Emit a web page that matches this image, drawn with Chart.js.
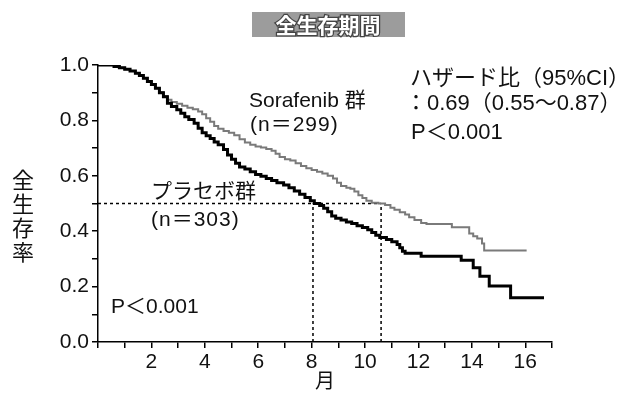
<!DOCTYPE html>
<html><head><meta charset="utf-8">
<script src="https://cdn.jsdelivr.net/npm/chart.js@4"></script>
<style>html,body{margin:0;padding:0;background:#fff;}canvas{display:block;}</style>
</head><body>
<canvas id="c" width="618" height="394"></canvas>
<script>
const placeboMonths = [0,0.45,0.6,0.8,1.0,1.2,1.4,1.55,1.7,1.85,2.0,2.15,2.3,2.45,2.6,2.75,2.95,3.1,3.25,3.4,3.6,3.75,3.9,4.05,4.2,4.35,4.5,4.7,4.85,5.0,5.15,5.3,5.5,5.7,5.9,6.1,6.3,6.5,6.7,6.95,7.15,7.35,7.55,7.75,7.95,8.1,8.3,8.45,8.6,8.75,8.9,9.1,9.3,9.5,9.7,9.9,10.1,10.25,10.4,10.55,10.8,11.0,11.2,11.3,11.4,11.5,12.1,13.6,14.05,14.3,14.65,15.45,16.7];
const placeboSurvival = [1,1,0.995,0.99,0.985,0.978,0.97,0.962,0.952,0.94,0.93,0.916,0.9,0.885,0.862,0.85,0.838,0.826,0.813,0.803,0.79,0.772,0.755,0.745,0.735,0.722,0.712,0.695,0.675,0.66,0.645,0.632,0.625,0.615,0.605,0.598,0.59,0.583,0.575,0.567,0.557,0.545,0.533,0.522,0.51,0.5,0.493,0.483,0.47,0.455,0.447,0.44,0.433,0.428,0.42,0.413,0.405,0.395,0.385,0.377,0.37,0.362,0.352,0.34,0.328,0.32,0.31,0.295,0.268,0.237,0.202,0.16,0.16];
const sorafenibMonths = [0,0.45,0.6,0.8,1.0,1.2,1.4,1.55,1.7,1.85,2.0,2.15,2.3,2.45,2.6,2.75,2.95,3.15,3.35,3.55,3.75,3.9,4.05,4.2,4.35,4.5,4.7,4.9,5.1,5.3,5.5,5.7,5.9,6.1,6.3,6.5,6.65,6.8,7.0,7.2,7.4,7.6,7.8,8.0,8.2,8.4,8.6,8.8,8.95,9.1,9.3,9.45,9.6,9.75,9.9,10.05,10.25,10.5,10.75,10.95,11.1,11.3,11.5,11.65,11.85,12.1,12.3,13.25,13.9,14.05,14.2,14.38,14.46,16.05];
const sorafenibSurvival = [1,1,0.995,0.99,0.985,0.978,0.97,0.962,0.952,0.94,0.93,0.916,0.902,0.888,0.875,0.866,0.86,0.853,0.846,0.84,0.832,0.822,0.808,0.795,0.78,0.77,0.762,0.755,0.746,0.732,0.72,0.712,0.706,0.702,0.697,0.69,0.68,0.668,0.66,0.655,0.645,0.635,0.627,0.621,0.615,0.608,0.6,0.59,0.575,0.563,0.557,0.553,0.543,0.53,0.52,0.51,0.503,0.5,0.495,0.485,0.477,0.468,0.46,0.45,0.44,0.43,0.426,0.414,0.392,0.382,0.374,0.356,0.33,0.33];
const medianPlacebo = 8.05;
const medianSorafenib = 10.6;
const medianLevel = 0.5;
const xMax = 17;
const yTickLabels = ['0.0','0.2','0.4','0.6','0.8','1.0'];
const xTickLabels = ['2','4','6','8','10','12','14','16'];

const toXY = (xs, ys) => xs.map((x, i) => ({x: x, y: ys[i]}));
const LAT = '"Liberation Sans", "Noto Sans CJK JP", sans-serif';
const JP = '"Noto Sans CJK JP", sans-serif';

const textPlugin = {
  id: 'texts',
  afterDraw(chart) {
    const ctx = chart.ctx;
    ctx.save();
    // title box
    ctx.fillStyle = '#9c9c9c';
    ctx.fillRect(252, 12, 153, 25);
    ctx.font = 'bold 21px ' + JP;
    ctx.textAlign = 'center';
    ctx.textBaseline = 'middle';
    ctx.lineWidth = 2.5;
    ctx.strokeStyle = '#444';
    ctx.strokeText('全生存期間', 328, 25);
    ctx.fillStyle = '#fff';
    ctx.fillText('全生存期間', 328, 25);
    // y title stacked
    ctx.fillStyle = '#111';
    ctx.font = '22px ' + JP;
    const yt = ['全','生','存','率'];
    yt.forEach((ch, i) => ctx.fillText(ch, 23, 180 + i * 24));
    // annotations
    ctx.textAlign = 'left';
    ctx.font = '21px ' + LAT;
    ctx.fillText('Sorafenib 群', 249, 101);
    ctx.fillText('プラセボ群', 151, 192);
    ctx.fillText('P＜0.001', 111, 307);
    ctx.letterSpacing = '1px';
    ctx.fillText('(n＝299)', 250, 125);
    ctx.fillText('(n＝303)', 151, 220);
    ctx.letterSpacing = '0px';
    ctx.font = '22px ' + LAT;
    ctx.fillText('ハザード比（95%CI）', 410, 79);
    ctx.fillText('：0.69（0.55〜0.87）', 405, 104);
    ctx.fillText('P＜0.001', 411, 133);
    ctx.restore();
  }
};

new Chart(document.getElementById('c'), {
  type: 'line',
  data: {
    datasets: [
      { label:'Placebo', data: toXY(placeboMonths, placeboSurvival), stepped:true, borderColor:'#000', borderWidth:3, pointRadius:0 },
      { label:'Sorafenib', data: toXY(sorafenibMonths, sorafenibSurvival), stepped:true, borderColor:'#7a7a7a', borderWidth:2, pointRadius:0 },
      { data: [{x:0,y:medianLevel},{x:medianSorafenib,y:medianLevel}], borderColor:'#000', borderWidth:1.5, borderDash:[3,3], pointRadius:0 },
      { data: [{x:medianPlacebo,y:0},{x:medianPlacebo,y:medianLevel}], borderColor:'#000', borderWidth:1.5, borderDash:[3,3], pointRadius:0 },
      { data: [{x:medianSorafenib,y:0},{x:medianSorafenib,y:medianLevel}], borderColor:'#000', borderWidth:1.5, borderDash:[3,3], pointRadius:0 }
    ]
  },
  options: {
    responsive: false,
    animation: false,
    layout: { padding: { top: 65, right: 66, left: 0, bottom: 0 } },
    plugins: { legend: { display: false }, tooltip: { enabled: false } },
    scales: {
      x: {
        type: 'linear', min: 0, max: xMax,
        ticks: { stepSize: 1, autoSkip: false, maxRotation: 0, padding: 2, color: '#111',
          font: { size: 21, family: LAT },
          callback: (v) => xTickLabels.includes(String(v)) ? String(v) : '' },
        grid: { drawOnChartArea: false, drawTicks: true, tickLength: 6, color: '#000', lineWidth: 1.5 },
        border: { display: true, color: '#000', width: 1.5 },
        title: { display: true, text: '月', color: '#111', font: { size: 20, family: JP }, padding: { top: 0, bottom: 2 } },
        afterFit: (s) => { s.height = 52; }
      },
      y: {
        min: 0, max: 1,
        ticks: { stepSize: 0.1, autoSkip: false, padding: 3, color: '#111',
          font: { size: 21, family: LAT },
          callback: (v) => { const l = v.toFixed(1); return yTickLabels.includes(l) ? l : ''; } },
        grid: { drawOnChartArea: false, drawTicks: true, tickLength: 6, color: '#000', lineWidth: 1.5 },
        border: { display: true, color: '#000', width: 1.5 },
        afterFit: (s) => { s.width = 98; }
      }
    }
  },
  plugins: [textPlugin]
});
</script>
</body></html>
